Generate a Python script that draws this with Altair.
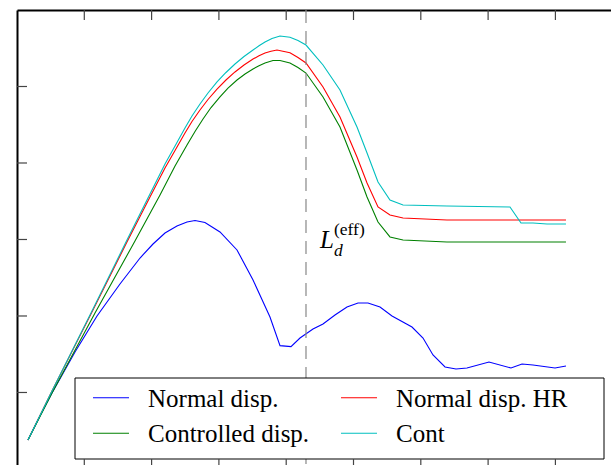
import altair as alt
import pandas as pd

# ---- data (x in horizontal tick units, y in vertical tick units) ----
series_names = ["Normal disp.", "Normal disp. HR", "Controlled disp.", "Cont"]
series_colors = ["#0000ff", "#ff0000", "#008000", "#00bfbf"]

normal_x = [0.163, 0.342, 0.520, 0.862, 1.189, 1.530, 1.828, 2.021, 2.199, 2.377, 2.526, 2.645,
            2.793, 3.016, 3.269, 3.507, 3.759, 3.908, 4.071, 4.205, 4.398, 4.547, 4.725, 4.903,
            5.067, 5.215, 5.394, 5.572, 5.869, 6.033, 6.181, 6.360, 6.523, 6.686, 7.013, 7.340,
            7.504, 7.667, 7.994, 8.157]
normal_y = [0.379, 0.693, 0.993, 1.529, 2.000, 2.418, 2.758, 2.941, 3.085, 3.176, 3.229, 3.248,
            3.222, 3.098, 2.863, 2.471, 1.987, 1.612, 1.599, 1.712, 1.830, 1.895, 2.013, 2.118,
            2.170, 2.170, 2.118, 2.000, 1.856, 1.712, 1.490, 1.333, 1.307, 1.320, 1.399, 1.320,
            1.373, 1.359, 1.320, 1.346]

hr_x = [0.163, 0.520, 1.114, 1.634, 1.976, 2.199, 2.348, 2.496, 2.600, 2.719, 2.838, 2.972,
        3.105, 3.239, 3.373, 3.507, 3.596, 3.685, 3.774, 3.863, 4.056, 4.175, 4.294, 4.547,
        4.799, 5.052, 5.201, 5.364, 5.542, 5.736, 6.389, 7.325, 8.157]
hr_y = [0.379, 1.020, 2.052, 2.967, 3.556, 3.935, 4.163, 4.392, 4.542, 4.693, 4.830, 4.967,
        5.085, 5.190, 5.281, 5.359, 5.401, 5.438, 5.461, 5.477, 5.442, 5.379, 5.307, 4.993,
        4.601, 4.078, 3.739, 3.425, 3.320, 3.281, 3.255, 3.255, 3.255]

ctrl_x = [0.163, 0.520, 1.159, 1.753, 2.125, 2.348, 2.526, 2.645, 2.764, 2.883, 3.016, 3.135,
          3.269, 3.388, 3.507, 3.596, 3.685, 3.804, 3.908, 4.056, 4.175, 4.294, 4.547, 4.799,
          5.052, 5.201, 5.364, 5.542, 5.736, 6.389, 7.325, 8.157]
ctrl_y = [0.379, 0.993, 2.039, 2.980, 3.582, 3.961, 4.235, 4.412, 4.575, 4.725, 4.863, 4.980,
          5.085, 5.163, 5.229, 5.271, 5.307, 5.340, 5.340, 5.307, 5.248, 5.176, 4.863, 4.471,
          3.908, 3.556, 3.229, 3.033, 2.993, 2.967, 2.967, 2.967]

cont_x = [0.163, 0.520, 1.114, 1.634, 1.976, 2.199, 2.348, 2.496, 2.600, 2.719, 2.838, 2.972,
          3.105, 3.239, 3.373, 3.507, 3.596, 3.685, 3.789, 3.908, 4.056, 4.175, 4.294, 4.547,
          4.799, 5.052, 5.201, 5.364, 5.542, 5.736, 6.389, 7.325, 7.489, 7.667, 7.875, 8.157]
cont_y = [0.379, 1.020, 2.065, 2.993, 3.595, 3.987, 4.222, 4.458, 4.614, 4.771, 4.915, 5.059,
          5.183, 5.294, 5.392, 5.477, 5.532, 5.582, 5.627, 5.660, 5.643, 5.601, 5.542, 5.281,
          4.954, 4.471, 4.131, 3.752, 3.516, 3.451, 3.438, 3.425, 3.216, 3.216, 3.203, 3.203]

ld_eff_x = 4.294      # L_d^(eff) marker
label_y = 2.889       # annotation baseline

x_ticks = [1, 2, 3, 4, 5, 6, 7, 8]
y_ticks = [1, 2, 3, 4, 5]
x_domain = [0, 8.826]
y_domain = [0.052, 6.0]

SERIF = "Times New Roman"

# ---- build table ----
rows = []
for name, xs_, ys_ in [(series_names[0], normal_x, normal_y),
                       (series_names[1], hr_x, hr_y),
                       (series_names[2], ctrl_x, ctrl_y),
                       (series_names[3], cont_x, cont_y)]:
    for i, (a, b) in enumerate(zip(xs_, ys_)):
        rows.append({"x": a, "y": b, "series": name, "i": i})
df = pd.DataFrame(rows)

W, H = 594, 455
xs = alt.Scale(domain=x_domain, nice=False, zero=False)
ys = alt.Scale(domain=y_domain, nice=False, zero=False)
x_axis = alt.Axis(orient="top", domain=True, domainColor="black", domainWidth=2,
                  ticks=False, labels=False, grid=False, title=None)
y_axis = alt.Axis(orient="left", domain=True, domainColor="black", domainWidth=2,
                  ticks=False, labels=False, grid=False, title=None)

lines = alt.Chart(df).mark_line(strokeWidth=1.1, clip=True).encode(
    x=alt.X("x:Q", scale=xs, axis=x_axis),
    y=alt.Y("y:Q", scale=ys, axis=y_axis),
    color=alt.Color("series:N", sort=series_names,
                    scale=alt.Scale(domain=series_names, range=series_colors),
                    legend=None),
    order="i:Q",
)

dash = alt.Chart(pd.DataFrame({"x": [ld_eff_x]})).mark_rule(
    color="#888888", strokeWidth=1.2, strokeDash=[13, 8]
).encode(x=alt.X("x:Q", scale=xs, axis=x_axis))

# legend box and entries (layout only)
LBX0, LBX1, LBY0, LBY1 = 58, 587, 368, 449
box = alt.Chart(pd.DataFrame({"a": [0]})).mark_rect(
    fill="white", stroke="black", strokeWidth=1
).encode(x=alt.value(LBX0), x2=alt.value(LBX1), y=alt.value(LBY0), y2=alt.value(LBY1))

legend_layers = []
one = pd.DataFrame({"a": [0]})
for k, (name, col) in enumerate(zip(series_names, series_colors)):
    c, r = k % 2, k // 2
    sx = 76 + c * 248
    ry = 387.7 + r * 35.6
    legend_layers.append(alt.Chart(one).mark_rule(color=col, strokeWidth=1.1).encode(
        x=alt.value(sx), x2=alt.value(sx + 36), y=alt.value(ry)))
    legend_layers.append(alt.Chart(one).mark_text(
        text=name, font=SERIF, fontSize=25, fontStyle="normal", fontWeight="normal",
        align="left", baseline="alphabetic",
        color="black").encode(x=alt.value(sx + 55), y=alt.value(ry + 9)))

ann = pd.DataFrame({"x": [ld_eff_x], "y": [label_y]})
txt_L = alt.Chart(ann).mark_text(
    text="L", font=SERIF, fontStyle="italic", fontSize=25,
    align="left", baseline="alphabetic", dx=14, color="black"
).encode(x=alt.X("x:Q", scale=xs, axis=x_axis), y=alt.Y("y:Q", scale=ys, axis=y_axis))
txt_sup = alt.Chart(ann).mark_text(
    text="(eff)", font=SERIF, fontSize=17.5,
    align="left", baseline="alphabetic", dx=28, dy=-13, color="black"
).encode(x=alt.X("x:Q", scale=xs, axis=x_axis), y=alt.Y("y:Q", scale=ys, axis=y_axis))
txt_sub = alt.Chart(ann).mark_text(
    text="d", font=SERIF, fontStyle="italic", fontSize=17.5,
    align="left", baseline="alphabetic", dx=28, dy=8, color="black"
).encode(x=alt.X("x:Q", scale=xs, axis=x_axis), y=alt.Y("y:Q", scale=ys, axis=y_axis))

xt = pd.DataFrame({"x": x_ticks})
yt = pd.DataFrame({"y": y_ticks})
top_ticks = alt.Chart(xt).mark_rule(color="#444444", strokeWidth=1.2).encode(
    x=alt.X("x:Q", scale=xs, axis=x_axis), y=alt.value(0), y2=alt.value(10))
bottom_ticks = alt.Chart(xt).mark_rule(color="#444444", strokeWidth=1.2).encode(
    x=alt.X("x:Q", scale=xs, axis=x_axis), y=alt.value(H - 6), y2=alt.value(H))
left_ticks = alt.Chart(yt).mark_rule(color="#444444", strokeWidth=1.2).encode(
    y=alt.Y("y:Q", scale=ys, axis=y_axis), x=alt.value(0), x2=alt.value(10))

chart = alt.layer(
    lines, dash, box, *legend_layers, txt_L, txt_sup, txt_sub,
    top_ticks, bottom_ticks, left_ticks
).properties(
    width=W, height=H,
    autosize=alt.AutoSizeParams(type="none"),
    padding={"left": 17, "top": 10, "right": 0, "bottom": 0},
).configure_view(stroke=None)

chart.save("out.html", embed_options={"renderer": "svg", "actions": False})
